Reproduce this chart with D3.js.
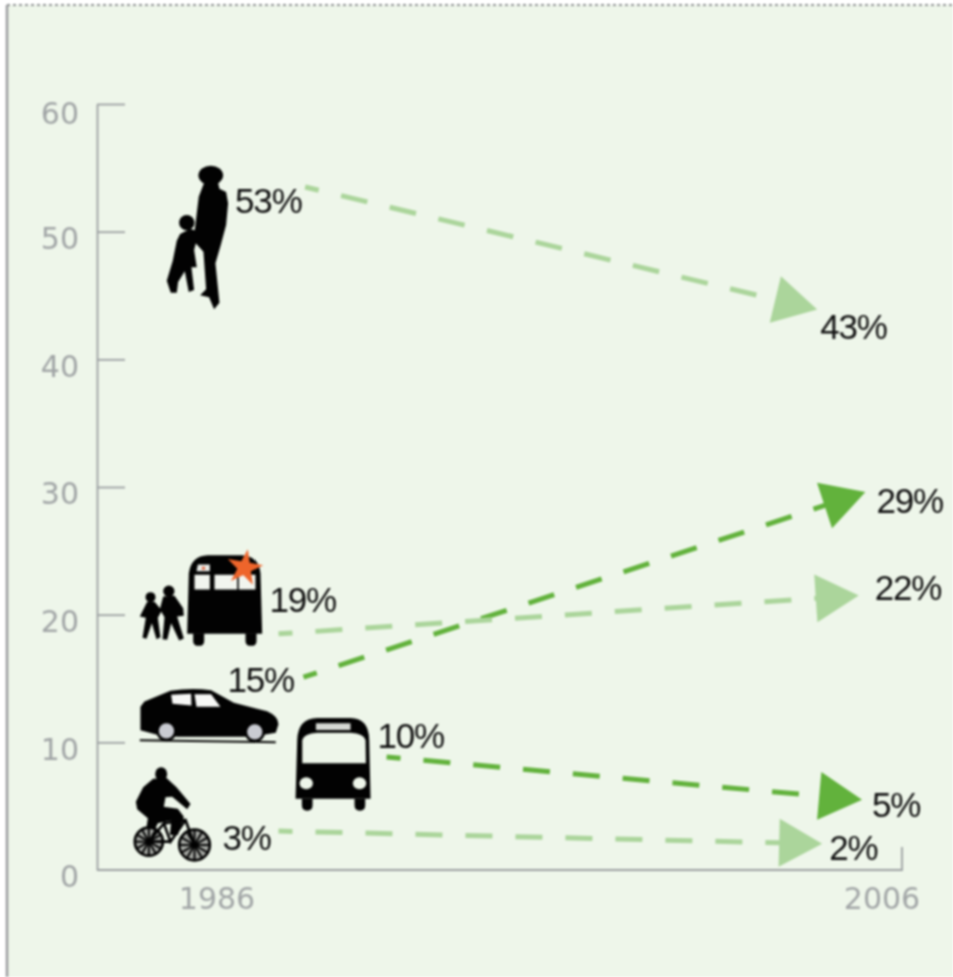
<!DOCTYPE html>
<html>
<head>
<meta charset="utf-8">
<script src="https://cdn.jsdelivr.net/npm/d3@7"></script>
<style>
  html, body { margin: 0; padding: 0; background: #fff; }
  svg { display: block; filter: blur(0.8px); }
  .axis-label { font-family: "DejaVu Sans", sans-serif; font-size: 30px; fill: #a1a5a6; }
  .value-label { font-family: "Liberation Sans", Arial, sans-serif; font-size: 35px; fill: #111; letter-spacing: -1.2px; }
</style>
</head>
<body>
<div id="chart"></div>
<script>
// Chart data
const modes = ["Walk", "Car", "School bus", "Public bus", "Bicycle"];
const shareStart = [53, 15, 19, 10, 3];
const shareEnd = [43, 29, 22, 5, 2];
// where each dashed arrow starts and ends, in axis units
const arrowStartValue = [53.5, 15.1, 18.5, 8.85, 3.05];
const arrowEndValue = [43.9, 29.6, 21.5, 5.5, 2.05];
const arrowStartYear = [1988.65, 1988.6, 1987.85, 1991.1, 1987.85];
const arrowEndYear = [2004.05, 2005.5, 2005.3, 2005.4, 2004.2];
const highlighted = [false, true, false, true, false];
const yTicks = [0, 10, 20, 30, 40, 50, 60];
const yearLabels = [1986, 2006];

const width = 953, height = 977;
const lightGreen = "#abd59b", darkGreen = "#62b23c", axisGrey = "#9b9fa1", black = "#020202", pale = "#eef6ea";

const x = d3.scaleLinear().domain([1986, 2006]).range([217, 882]);
const y = d3.scaleLinear().domain([0, 60]).range([870, 104]);

const svg = d3.select("#chart").append("svg")
    .attr("width", width)
    .attr("height", height);

// Panel
svg.append("rect").attr("x", 7).attr("y", 5).attr("width", width - 7).attr("height", height - 5).attr("fill", pale);
svg.append("line").attr("x1", 7).attr("x2", 7).attr("y1", 5).attr("y2", height)
    .attr("stroke", "#9a9c9e").attr("stroke-width", 2.5);
svg.append("line").attr("x1", 7).attr("x2", width).attr("y1", 5).attr("y2", 5)
    .attr("stroke", "#8f9193").attr("stroke-width", 2).attr("stroke-dasharray", "3 3");

// Y axis, ticks point into the plot
const yAxis = svg.append("g")
    .attr("transform", `translate(${x.range()[0] - 120},0)`)
    .call(d3.axisLeft(y).tickValues(yTicks).tickSize(-28).tickSizeOuter(0));
yAxis.attr("font-size", null).attr("font-family", null);
yAxis.select(".domain").attr("stroke", axisGrey).attr("stroke-width", 1.8);
yAxis.selectAll(".tick line").attr("stroke", axisGrey).attr("stroke-width", 1.8);
yAxis.selectAll(".tick text")
    .attr("class", "axis-label")
    .attr("x", -18)
    .attr("dy", "0.56em");
yAxis.selectAll(".tick").filter(d => d === 0).select("line").remove();
yAxis.selectAll(".tick").filter(d => d === 60).select("text").attr("dy", "0.66em");

// X axis, only the two years
const xLeft = x.range()[0] - 120, xRight = 902;
svg.append("path")
    .attr("d", `M${xLeft},${y(0)}H${xRight}V${y(0) - 23}`)
    .attr("fill", "none").attr("stroke", axisGrey).attr("stroke-width", 1.8);
svg.selectAll(".year").data(yearLabels).enter().append("text")
    .attr("class", "axis-label")
    .attr("x", d => x(d))
    .attr("y", y(0) + 39)
    .attr("text-anchor", "middle")
    .text(d => d);

// Dashed arrows
const arrows = modes.map((m, i) => ({
    mode: m,
    x1: x(arrowStartYear[i]), y1: y(arrowStartValue[i]),
    x2: x(arrowEndYear[i]), y2: y(arrowEndValue[i]),
    color: highlighted[i] ? darkGreen : lightGreen
}));

const arrowG = svg.selectAll(".arrow").data(arrows).enter().append("g").attr("class", "arrow");
arrowG.append("line")
    .attr("x1", d => d.x1).attr("y1", d => d.y1)
    .attr("x2", d => d.x2 - (d.x2 - d.x1) * 30 / Math.hypot(d.x2 - d.x1, d.y2 - d.y1))
    .attr("y2", d => d.y2 - (d.y2 - d.y1) * 30 / Math.hypot(d.x2 - d.x1, d.y2 - d.y1))
    .attr("stroke", d => d.color)
    .attr("stroke-width", 5)
    .attr("stroke-dasharray", "27 23")
    .attr("stroke-dashoffset", 13);
arrowG.append("path")
    .attr("d", "M0,0L-43,-24L-43,24Z")
    .attr("fill", d => d.color)
    .attr("transform", d => `translate(${d.x2},${d.y2}) rotate(${Math.atan2(d.y2 - d.y1, d.x2 - d.x1) * 180 / Math.PI})`);

// Percent labels, offset from the arrow ends
const startOffsets = [[-70, 26], [-76, 15], [-9, -22], [-9, -9], [-56, 19]];
const endOffsets = [[3, 29], [11, 21], [16, 4], [10, 17], [7, 16]];
svg.selectAll(".start-label").data(arrows).enter().append("text")
    .attr("class", "value-label")
    .attr("x", (d, i) => d.x1 + startOffsets[i][0])
    .attr("y", (d, i) => d.y1 + startOffsets[i][1])
    .text((d, i) => shareStart[i] + "%");
svg.selectAll(".end-label").data(arrows).enter().append("text")
    .attr("class", "value-label")
    .attr("x", (d, i) => d.x2 + endOffsets[i][0])
    .attr("y", (d, i) => d.y2 + endOffsets[i][1])
    .text((d, i) => shareEnd[i] + "%");

// Icons, drawn on a 3x grid and placed at the arrow start
function icon(i, dx, dy) {
    return svg.append("g")
        .attr("transform", `translate(${arrows[i].x1 + dx},${arrows[i].y1 + dy}) scale(0.3333)`);
}
function shape(g, d, fill) { return g.append("path").attr("d", d).attr("fill", fill || black); }

// Woman and child
const walk = icon(0, -165, -37);
walk.append("ellipse").attr("cx", 212).attr("cy", 76).attr("rx", 37).attr("ry", 29).attr("fill", black);
shape(walk, "M192,98L234,98L238,116L258,126L264,160L258,225L242,285L226,340L238,458L222,478L207,442L180,436L198,418L190,305L160,272L176,140Z");
walk.append("circle").attr("cx", 140).attr("cy", 218).attr("r", 23).attr("fill", black);
shape(walk, "M120,252L150,236L180,246L172,262L162,300L170,352L154,352L162,420L146,426L134,364L114,396L110,428L92,428L80,392L98,332L110,272Z");

// Kids and school bus
const school = icon(2, -158, -94);
shape(school, "M90,172m-15,0a15,15 0 1,0 30,0a15,15 0 1,0 -30,0M145,154m-17,0a17,17 0 1,0 34,0a17,17 0 1,0 -34,0");
shape(school, "M80,186L102,186L124,212L112,234L120,292L108,298L94,250L78,297L66,294L76,234L58,230Z");
shape(school, "M128,170L162,168L188,205L190,228L170,230L190,296L176,302L152,250L140,300L126,298L132,232L118,208Z");
shape(school, "M205,100Q212,48 262,46L365,46Q415,48 420,100L425,282L200,282Z");
shape(school, "M218,280h33v24q0,14 -16,14q-17,0 -17,-14ZM375,280h33v24q0,14 -16,14q-17,0 -17,-14Z");
shape(school, "M222,105h46v44h-46ZM282,105h68v44h-68ZM355,105h50v44h-50Z", "#f2f5ef");
shape(school, "M232,74h36v20h-40Z", "#e9ece8");
school.append("circle").attr("cx", 249).attr("cy", 85).attr("r", 5).attr("fill", "#e0603a");
const starPath = d3.symbol().type(d3.symbolStar).size(3600)();
shape(school, starPath, "#ee652b").attr("transform", "translate(372,84) rotate(10)");

// Car
const car = icon(1, -183, -137);
shape(car, "M60,500L72,484L150,452Q210,442 272,450L340,488L440,513Q474,528 474,552L466,578L430,584L375,590L170,590L110,584L60,570Z");
shape(car, "M152,464L212,461L213,496L156,491Z", "#f7f8f6");
shape(car, "M222,462L272,462L300,500L228,500Z", "#f7f8f6");
shape(car, "M58,600L466,606", "none").attr("stroke", black).attr("stroke-width", 6);
[[138, 572], [403, 575]].forEach(c => {
    car.append("circle").attr("cx", c[0]).attr("cy", c[1]).attr("r", 31).attr("fill", black);
    car.append("circle").attr("cx", c[0]).attr("cy", c[1]).attr("r", 23).attr("fill", "#c9cbd2");
});

// City bus
const bus = icon(3, -266, -217);
shape(bus, "M530,600Q532,535 590,534L690,534Q745,535 746,600L750,776L525,776Z");
shape(bus, "M544,776h32v20q0,16 -16,16q-16,0 -16,-16ZM702,776h32v20q0,16 -16,16q-16,0 -16,-16Z");
shape(bus, "M545,600Q550,580 590,578L690,578Q730,580 735,600L736,670L545,670Z", pale);
shape(bus, "M586,550h104v20h-104Z", "#d5d8d3");
bus.append("ellipse").attr("cx", 557).attr("cy", 730).attr("rx", 20).attr("ry", 18).attr("fill", pale);
bus.append("ellipse").attr("cx", 717).attr("cy", 730).attr("rx", 20).attr("ry", 18).attr("fill", pale);

// Cyclist
const bike = icon(4, -158, -291);
bike.append("ellipse").attr("cx", 122).attr("cy", 702).attr("rx", 18).attr("ry", 20).attr("fill", black);
shape(bike, "M98,716L138,714L168,742L210,792L200,808L155,770L135,772L130,800L172,806L190,830L172,885L148,885L152,842L112,850L96,885L76,875L82,835L50,808L46,785L68,742Z");
[[85, 905, 42], [222, 915, 46]].forEach(c => {
    bike.append("circle").attr("cx", c[0]).attr("cy", c[1]).attr("r", c[2])
        .attr("fill", "#a4a7a2").attr("stroke", black).attr("stroke-width", 8);
    d3.range(0, 180, 30).forEach(a => {
        const r = c[2], t = a * Math.PI / 180;
        bike.append("line")
            .attr("x1", c[0] - r * Math.cos(t)).attr("y1", c[1] - r * Math.sin(t))
            .attr("x2", c[0] + r * Math.cos(t)).attr("y2", c[1] + r * Math.sin(t))
            .attr("stroke", black).attr("stroke-width", 6);
    });
});
shape(bike, "M85,905L130,850L195,840L222,915M130,850L150,905L195,840M150,905L85,905", "none")
    .attr("stroke", black).attr("stroke-width", 8);
</script>
</body>
</html>
